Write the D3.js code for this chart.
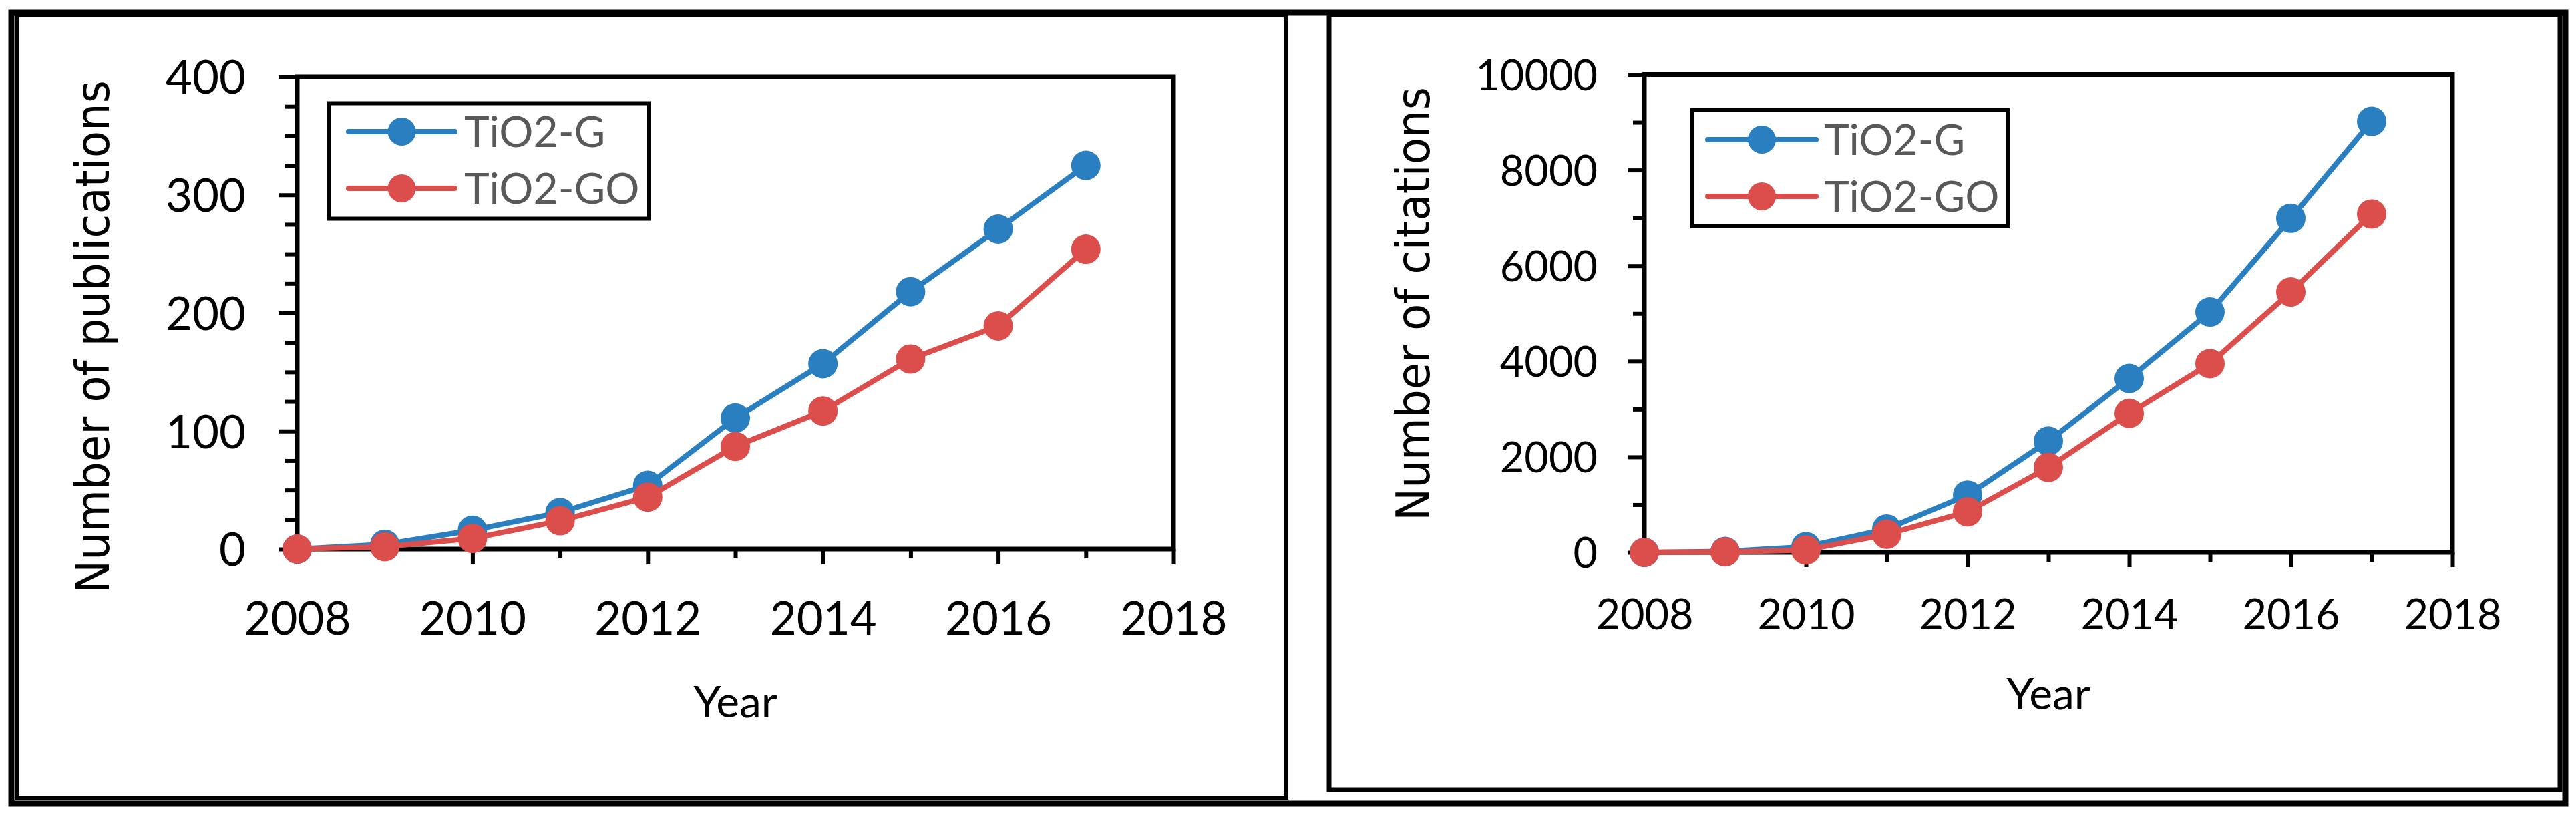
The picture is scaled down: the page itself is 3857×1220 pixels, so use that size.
<!DOCTYPE html>
<html><head><meta charset="utf-8">
<script src="https://cdn.jsdelivr.net/npm/d3@7"></script>
<style>html,body{margin:0;padding:0;background:#fff;} svg{display:block;}</style>
</head><body><svg id="c" width="3857" height="1220"></svg>
<script>
// ---------- data ----------
const years = [2008, 2009, 2010, 2011, 2012, 2013, 2014, 2015, 2016, 2017];
const publicationsTiO2G  = [0, 4, 16, 31, 54, 111, 157, 218, 271, 325];
const publicationsTiO2GO = [0, 2, 9, 24, 44, 87, 117, 161, 189, 254];
const citationsTiO2G  = [0, 20, 120, 490, 1200, 2330, 3640, 5030, 6990, 9020];
const citationsTiO2GO = [0, 10, 50, 380, 850, 1780, 2910, 3950, 5450, 7080];
const seriesNames = ["TiO2-G", "TiO2-GO"];
const seriesColors = ["#2a7fc1", "#dc4e4b"];
const xTickValues = [2008, 2010, 2012, 2014, 2016, 2018];
const xMinorTicks = [2009, 2011, 2013, 2015, 2017];
const pubYTicks = [0, 100, 200, 300, 400];
const pubYMinor = [25, 50, 75, 125, 150, 175, 225, 250, 275, 325, 350, 375];
const citYTicks = [0, 2000, 4000, 6000, 8000, 10000];
const citYMinor = [1000, 3000, 5000, 7000, 9000];
const xTitle = "Year";
const pubYTitle = "Number of publications";
const citYTitle = "Number of citations";

// ---------- layout ----------
const svg = d3.select("#c");
const TICK_FONT = "Lato, 'Open Sans', sans-serif";
const TITLE_FONT = "'DejaVu Sans', Verdana, sans-serif";

// frames
svg.append("rect").attr("x", 17).attr("y", 19).attr("width", 3824).attr("height", 1184)
  .attr("fill", "none").attr("stroke", "#000").attr("stroke-width", 9);
svg.append("rect").attr("x", 25).attr("y", 22).attr("width", 1901).attr("height", 1172)
  .attr("fill", "none").attr("stroke", "#000").attr("stroke-width", 6);
svg.append("rect").attr("x", 1990).attr("y", 22).attr("width", 1843).attr("height", 1160)
  .attr("fill", "none").attr("stroke", "#000").attr("stroke-width", 7);

function drawPanel(p) {
  const x = d3.scaleLinear().domain([2008, 2018]).range([p.x0, p.x1]);
  const y = d3.scaleLinear().domain([0, p.yMax]).range([p.yBot, p.yTop]);
  const g = svg.append("g");

  // minor y ticks
  g.append("g").attr("transform", `translate(${p.x0},0)`)
    .call(d3.axisLeft(y).tickValues(p.yMinor).tickSize(p.yMinorLen).tickFormat(""))
    .call(a => a.select(".domain").remove())
    .call(a => a.selectAll("line").attr("stroke", "#000").attr("stroke-width", 6));
  // major y ticks
  g.append("g").attr("transform", `translate(${p.x0},0)`)
    .call(d3.axisLeft(y).tickValues(p.yTicks).tickSize(p.yMajorLen).tickPadding(p.yPad).tickFormat(d3.format("d")))
    .call(a => a.select(".domain").remove())
    .call(a => a.selectAll("line").attr("stroke", "#000").attr("stroke-width", 6))
    .call(a => a.selectAll("text").attr("font-family", TICK_FONT).attr("font-size", p.tickFs)
      .attr("fill", "#000").attr("dy", "0.36em"));
  // minor x ticks
  g.append("g").attr("transform", `translate(0,${p.yBot})`)
    .call(d3.axisBottom(x).tickValues(xMinorTicks).tickSize(p.xMinorLen).tickFormat(""))
    .call(a => a.select(".domain").remove())
    .call(a => a.selectAll("line").attr("stroke", "#000").attr("stroke-width", 6));
  // major x ticks
  g.append("g").attr("transform", `translate(0,${p.yBot})`)
    .call(d3.axisBottom(x).tickValues(xTickValues).tickSize(p.xMajorLen).tickFormat(d3.format("d")))
    .call(a => a.select(".domain").remove())
    .call(a => a.selectAll("line").attr("stroke", "#000").attr("stroke-width", 6))
    .call(a => a.selectAll("text").attr("font-family", TICK_FONT).attr("font-size", p.tickFs)
      .attr("fill", "#000").attr("y", p.xLabelBase).attr("dy", 0));

  // plot frame
  g.append("rect").attr("x", p.x0).attr("y", p.yTop).attr("width", p.x1 - p.x0).attr("height", p.yBot - p.yTop)
    .attr("fill", "none").attr("stroke", "#000").attr("stroke-width", 7);

  // series
  const line = d3.line().x(d => x(d.year)).y(d => y(d.v));
  p.series.forEach((vals, i) => {
    const data = years.map((yr, k) => ({ year: yr, v: vals[k] }));
    g.append("path").datum(data).attr("d", line).attr("fill", "none")
      .attr("stroke", seriesColors[i]).attr("stroke-width", 8)
      .attr("stroke-linejoin", "round").attr("stroke-linecap", "round");
    g.selectAll(null).data(data).enter().append("circle")
      .attr("cx", d => x(d.year)).attr("cy", d => y(d.v)).attr("r", 22)
      .attr("fill", seriesColors[i]);
  });

  // axis titles
  g.append("text").attr("transform", `translate(${p.yTitleX},${p.yTitleCY}) rotate(-90)`)
    .attr("text-anchor", "middle").attr("font-family", TITLE_FONT).attr("font-size", 70)
    .attr("textLength", p.yTitleLen).attr("lengthAdjust", "spacingAndGlyphs")
    .attr("fill", "#000").text(p.yTitle);
  g.append("text").attr("x", (p.x0 + p.x1) / 2).attr("y", p.xTitleBase)
    .attr("text-anchor", "middle").attr("font-family", TICK_FONT).attr("font-size", 66)
    .attr("fill", "#000").text(xTitle);

  // legend
  const L = p.legend;
  g.append("rect").attr("x", L.x).attr("y", L.y).attr("width", L.w).attr("height", L.h)
    .attr("fill", "#fff").attr("stroke", "#000").attr("stroke-width", 6);
  seriesNames.forEach((name, i) => {
    const ly = L.rowY[i];
    g.append("line").attr("x1", L.lx1).attr("x2", L.lx2).attr("y1", ly).attr("y2", ly)
      .attr("stroke", seriesColors[i]).attr("stroke-width", 8).attr("stroke-linecap", "round");
    g.append("circle").attr("cx", (L.lx1 + L.lx2) / 2).attr("cy", ly).attr("r", 21).attr("fill", seriesColors[i]);
    g.append("text").attr("x", L.tx).attr("y", ly + 23).attr("font-family", TICK_FONT)
      .attr("font-size", 64).attr("fill", "#595959").text(name);
  });
}

drawPanel({
  x0: 445, x1: 1757, yTop: 115, yBot: 822, yMax: 400,
  yTicks: pubYTicks, yMinor: pubYMinor, yMajorLen: 28, yMinorLen: 18, yPad: 49,
  xMajorLen: 23, xMinorLen: 14, xLabelBase: 128, tickFs: 69,
  series: [publicationsTiO2G, publicationsTiO2GO],
  yTitle: pubYTitle, yTitleX: 163, yTitleCY: 504, yTitleLen: 768, xTitleBase: 1074,
  legend: { x: 492, y: 154.5, w: 480, h: 173, rowY: [197, 282], lx1: 522, lx2: 681, tx: 695 }
});
drawPanel({
  x0: 2462, x1: 3672, yTop: 111.5, yBot: 827, yMax: 10000,
  yTicks: citYTicks, yMinor: citYMinor, yMajorLen: 25, yMinorLen: 17, yPad: 45,
  xMajorLen: 22, xMinorLen: 14, xLabelBase: 115, tickFs: 63,
  series: [citationsTiO2G, citationsTiO2GO],
  yTitle: citYTitle, yTitleX: 2140, yTitleCY: 455, yTitleLen: 650, xTitleBase: 1062,
  legend: { x: 2534, y: 165, w: 472, h: 174, rowY: [209, 294], lx1: 2557, lx2: 2719, tx: 2731 }
});
</script></body></html>
